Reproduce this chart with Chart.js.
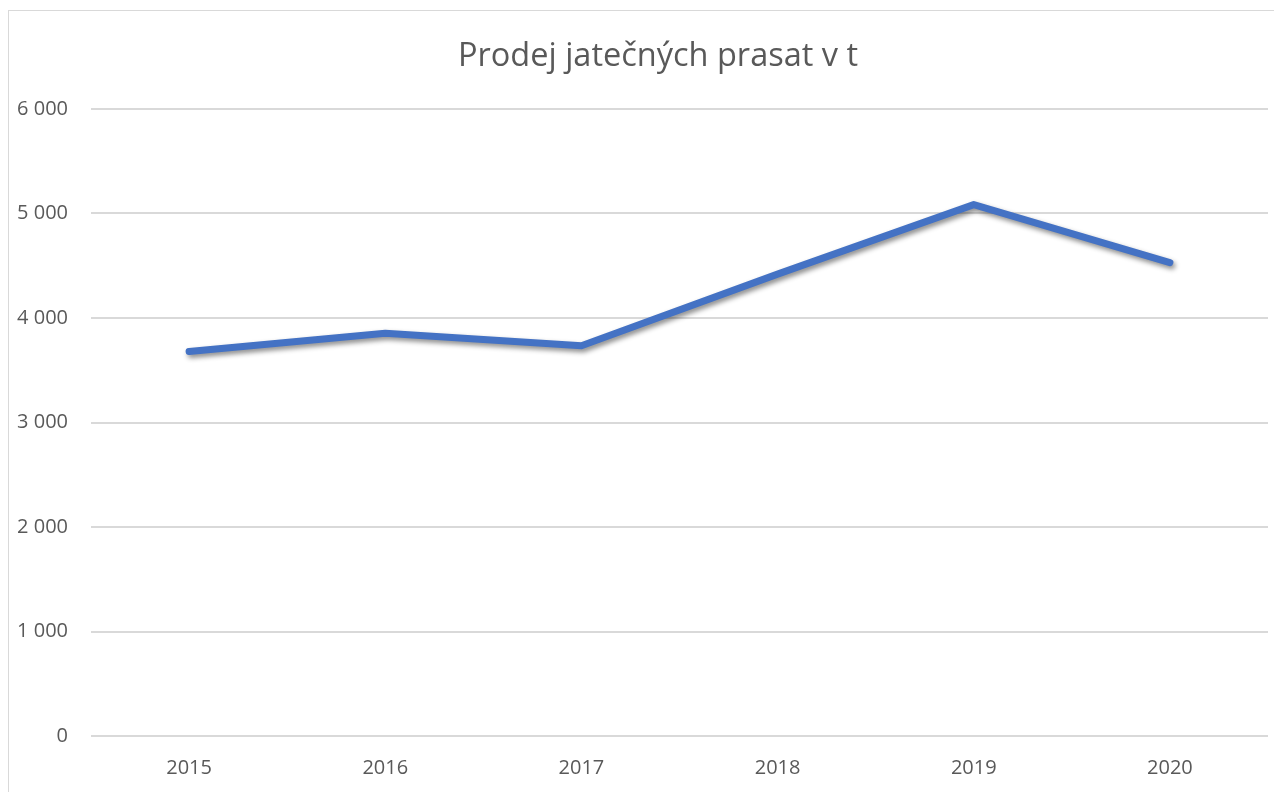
<!DOCTYPE html>
<html>
<head>
<meta charset="utf-8">
<script src="https://cdn.jsdelivr.net/npm/chart.js@4.4.0/dist/chart.umd.min.js"></script>
<style>
  html, body { margin: 0; padding: 0; background: #ffffff; overflow: hidden; width: 1274px; height: 792px; }
  #frame { position: absolute; left: 8px; top: 10px; width: 1300px; height: 820px; border: 1px solid #d9d9d9; box-sizing: border-box; }
  #wrap { position: absolute; left: 0; top: 0; width: 1274px; height: 792px; }
</style>
</head>
<body>
<div id="frame"></div>
<div id="wrap"><canvas id="c" width="1274" height="792"></canvas></div>
<script>
const chartTitle = 'Prodej jatečných prasat v t';
const categories = ['2015', '2016', '2017', '2018', '2019', '2020'];
const salesValues = [3680, 3855, 3735, 4420, 5085, 4530];
const yMin = 0;
const yMax = 6000;
const yStep = 1000;

const shadowPlugin = {
  id: 'lineShadow',
  beforeDatasetsDraw(chart) {
    const ctx = chart.ctx;
    ctx.save();
    ctx.shadowColor = 'rgba(0,0,0,0.45)';
    ctx.shadowBlur = 5;
    ctx.shadowOffsetX = 2;
    ctx.shadowOffsetY = 3;
  },
  afterDatasetsDraw(chart) {
    chart.ctx.restore();
  }
};

// the title is centred on the whole chart frame, which runs past the window's right edge
const titleShiftPlugin = {
  id: 'titleShift',
  afterLayout(chart) {
    const t = chart.titleBlock;
    if (t) { t.left = 48; t.width = t.right - t.left; }
  }
};

const fmt = v => String(v).replace(/\B(?=(\d{3})+(?!\d))/g, ' ');

new Chart(document.getElementById('c'), {
  type: 'line',
  data: {
    labels: categories,
    datasets: [{
      label: chartTitle,
      data: salesValues,
      borderColor: '#4472C4',
      backgroundColor: '#4472C4',
      borderWidth: 7,
      borderCapStyle: 'round',
      borderJoinStyle: 'round',
      pointRadius: 0,
      pointHoverRadius: 0,
      tension: 0,
      fill: false
    }]
  },
  options: {
    responsive: false,
    animation: false,
    layout: { padding: { left: 0, right: 6, top: 0, bottom: 0 } },
    plugins: {
      legend: { display: false },
      tooltip: { enabled: false },
      title: {
        display: true,
        text: chartTitle,
        color: '#595959',
        font: { family: '"Open Sans", sans-serif', size: 32.5, weight: 'normal' },
        padding: { top: 37, bottom: 33 }
      }
    },
    scales: {
      x: {
        offset: true,
        grid: { display: false, drawTicks: false },
        border: { display: false },
        ticks: {
          color: '#595959',
          font: { family: '"Open Sans", sans-serif', size: 20 },
          padding: 20,
          maxRotation: 0
        },
        afterFit(scale) { scale.height = 56; }
      },
      y: {
        min: yMin,
        max: yMax,
        grid: { color: '#d9d9d9', lineWidth: 2, drawTicks: false },
        border: { display: false },
        ticks: {
          stepSize: yStep,
          color: '#595959',
          font: { family: '"Open Sans", sans-serif', size: 20 },
          padding: 23,
          callback: v => fmt(v)
        },
        afterFit(scale) { scale.width = 91; }
      }
    }
  },
  plugins: [shadowPlugin, titleShiftPlugin]
});
</script>
</body>
</html>
